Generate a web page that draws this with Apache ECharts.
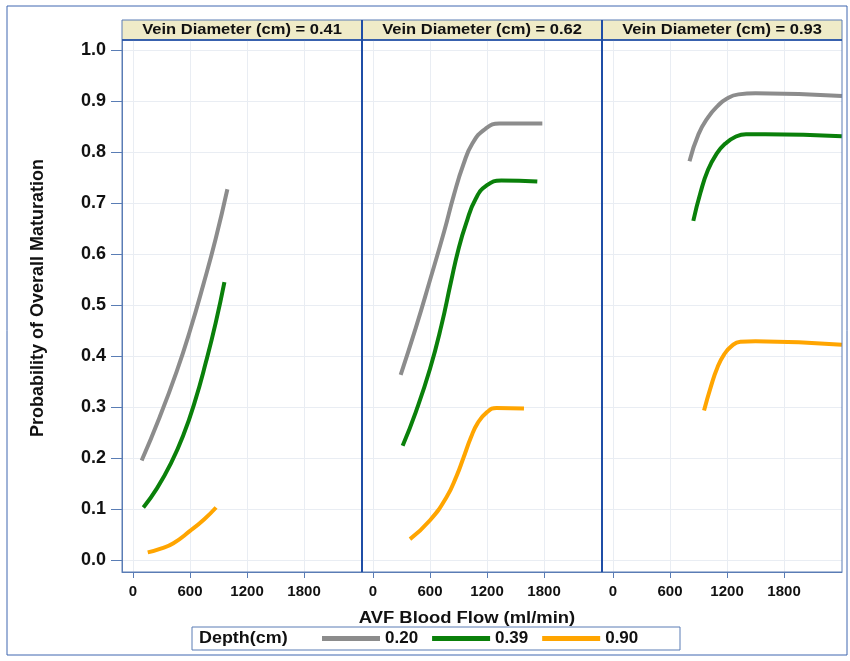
<!DOCTYPE html>
<html lang="en">
<head>
    <meta charset="UTF-8">
    <title>Probability of Overall Maturation</title>
    <script src="https://cdn.jsdelivr.net/npm/echarts@6/dist/echarts.min.js"></script>
</head>
<body style="margin:0;background:#fff;">
<div id="main" style="width: 850px;height:661px;"></div>
<script>
    // panels / legend / ticks
    var panels = ['Vein Diameter (cm) = 0.41', 'Vein Diameter (cm) = 0.62', 'Vein Diameter (cm) = 0.93'];
    var depths = ['0.20', '0.39', '0.90'];
    var xTicks = [0, 600, 1200, 1800];
    var yTicks = [0, 0.1, 0.2, 0.3, 0.4, 0.5, 0.6, 0.7, 0.8, 0.9, 1.0];

    // vein 0.41 : [blood flow, probability]
    var v41_d20 = [[91, 0.195], [280, 0.280], [460, 0.370], [600, 0.450], [740, 0.540], [870, 0.630], [993, 0.727]];
    var v41_d39 = [[109, 0.103], [250, 0.140], [400, 0.190], [530, 0.245], [650, 0.310], [770, 0.390], [870, 0.465], [962, 0.545]];
    var v41_d90 = [[155, 0.015], [300, 0.023], [425, 0.033], [600, 0.057], [750, 0.080], [874, 0.103]];
    // vein 0.62
    var v62_d20 = [[291, 0.363], [450, 0.455], [600, 0.549], [750, 0.645], [850, 0.715], [950, 0.775], [1050, 0.818], [1180, 0.845], [1330, 0.856], [1782, 0.856]];
    var v62_d39 = [[312, 0.224], [450, 0.290], [600, 0.375], [720, 0.460], [820, 0.545], [900, 0.610], [980, 0.660], [1080, 0.708], [1200, 0.735], [1350, 0.744], [1729, 0.742]];
    var v62_d90 = [[389, 0.041], [600, 0.078], [776, 0.124], [880, 0.165], [951, 0.200], [1030, 0.240], [1100, 0.268], [1200, 0.290], [1300, 0.298], [1589, 0.297]];
    // vein 0.93
    var v93_d20 = [[805, 0.782], [900, 0.835], [1000, 0.868], [1100, 0.890], [1200, 0.905], [1320, 0.913], [1500, 0.915], [2410, 0.910]];
    var v93_d39 = [[845, 0.665], [920, 0.720], [1000, 0.765], [1091, 0.797], [1180, 0.816], [1280, 0.829], [1400, 0.835], [1600, 0.835], [2410, 0.831]];
    var v93_d90 = [[958, 0.293], [1030, 0.340], [1100, 0.378], [1170, 0.403], [1250, 0.420], [1340, 0.428], [1500, 0.429], [2410, 0.422]];

    var panelData = [
        [v41_d20, v41_d39, v41_d90],
        [v62_d20, v62_d39, v62_d90],
        [v93_d20, v93_d39, v93_d90]
    ];
    var colors = ['#8c8c8c', '#0a800a', '#ffa500'];

    var FONT = 'Liberation Sans, Arial, sans-serif';
    var BLUE = '#5a7db5';
    var DARK = '#1f4ea6';

    var myChart = echarts.init(document.getElementById('main'));

    var grids = [], xAxes = [], yAxes = [], series = [], graphics = [];
    for (var i = 0; i < 3; i++) {
        var left = 122 + 240 * i;
        grids.push({left: left, top: 40, width: 240, height: 532, show: false});
        xAxes.push({
            type: 'value', gridIndex: i, min: -116, max: 2410,
            axisLine: {show: true, onZero: false, lineStyle: {color: BLUE, width: 1}},
            axisTick: {show: true, length: 6, lineStyle: {color: BLUE}, customValues: xTicks},
            axisLabel: {customValues: xTicks, margin: 12, color: '#111', fontWeight: 'bold', fontSize: 15, fontFamily: FONT,
                formatter: function (v) { return String(v); }},
            splitLine: {show: true, lineStyle: {color: '#e9edf3', width: 1}}
        });
        yAxes.push({
            type: 'value', gridIndex: i, min: -0.0235, max: 1.0196,
            axisLine: {show: i === 0, onZero: false, lineStyle: {color: BLUE}},
            axisTick: {show: i === 0, length: 11, lineStyle: {color: BLUE}, customValues: yTicks},
            axisLabel: {show: i === 0, customValues: yTicks, margin: 16, color: '#111', fontWeight: 'bold', fontSize: 18, fontFamily: FONT,
                formatter: function (v) { return v.toFixed(1); }},
            splitLine: {show: true, lineStyle: {color: '#e9edf3', width: 1}}
        });
        for (var k = 0; k < 3; k++) {
            series.push({
                name: depths[k], type: 'line', xAxisIndex: i, yAxisIndex: i,
                data: panelData[i][k], showSymbol: false, smooth: 0.5,
                lineStyle: {color: colors[k], width: 4}, itemStyle: {color: colors[k]},
                silent: true
            });
        }
        // header strip
        graphics.push({
            type: 'rect', shape: {x: left, y: 20, width: 240, height: 20},
            style: {fill: '#efebc8', stroke: BLUE, lineWidth: 1}
        });
        graphics.push({
            type: 'text', x: left + 120, y: 30, scaleX: 1.18,
            style: {text: panels[i], fill: '#111', font: 'bold 14px ' + FONT, textAlign: 'center', textVerticalAlign: 'middle'}
        });
    }

    // axis titles
    graphics.push({
        type: 'text', x: 38, y: 298, rotation: Math.PI / 2,
        style: {text: 'Probability of Overall Maturation', fill: '#111', font: 'bold 18px ' + FONT, textAlign: 'center', textVerticalAlign: 'middle'}
    });
    graphics.push({
        type: 'text', x: 467, y: 619, scaleX: 1.15,
        style: {text: 'AVF Blood Flow (ml/min)', fill: '#111', font: 'bold 16px ' + FONT, textAlign: 'center', textVerticalAlign: 'middle'}
    });

    // frame and panel dividers
    graphics.push({type: 'rect', shape: {x: 122, y: 40, width: 720, height: 532}, style: {fill: 'none', stroke: BLUE, lineWidth: 1}, z: 10});
    graphics.push({type: 'line', shape: {x1: 362, y1: 20, x2: 362, y2: 572}, style: {stroke: DARK, lineWidth: 2}, z: 11});
    graphics.push({type: 'line', shape: {x1: 602, y1: 20, x2: 602, y2: 572}, style: {stroke: DARK, lineWidth: 2}, z: 11});
    graphics.push({type: 'line', shape: {x1: 122, y1: 40, x2: 842, y2: 40}, style: {stroke: DARK, lineWidth: 1.5}, z: 11});
    graphics.push({type: 'rect', shape: {x: 7, y: 6, width: 840, height: 649}, style: {fill: 'none', stroke: '#3f66b0', lineWidth: 1}, z: 0});
    // legend box
    graphics.push({type: 'rect', shape: {x: 192, y: 627, width: 488, height: 23}, style: {fill: '#fff', stroke: BLUE, lineWidth: 1}, z: 0});
    graphics.push({type: 'text', x: 199, y: 639, scaleX: 1.12, style: {text: 'Depth(cm)', fill: '#111', font: 'bold 16px ' + FONT, textVerticalAlign: 'middle'}, z: 5});

    myChart.setOption({
        animation: false,
        grid: grids,
        xAxis: xAxes,
        yAxis: yAxes,
        legend: {
            data: depths, left: 322, top: 630, icon: 'rect',
            itemWidth: 58, itemHeight: 5, itemGap: 14, padding: 0,
            textStyle: {color: '#111', fontWeight: 'bold', fontSize: 17, fontFamily: FONT},
            selectedMode: false
        },
        graphic: graphics,
        series: series
    });
</script>
</body>
</html>
